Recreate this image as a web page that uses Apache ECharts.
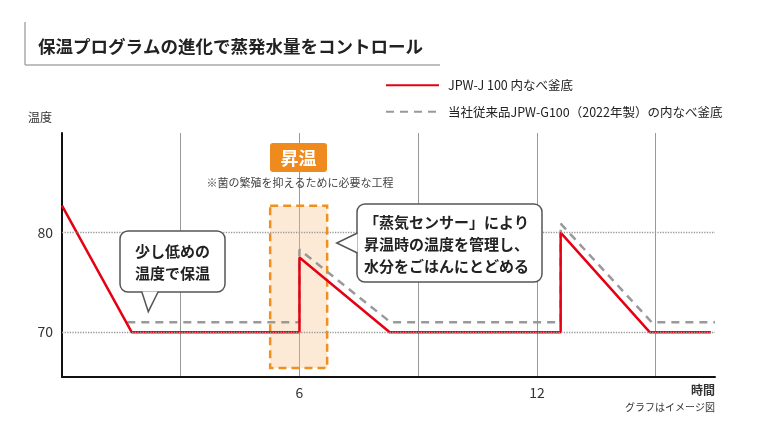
<!DOCTYPE html>
<html>
<head>
<meta charset="utf-8">
<script src="https://cdn.jsdelivr.net/npm/echarts@6/dist/echarts.min.js"></script>
<style>
  html, body { margin: 0; padding: 0; background: #fff; }
  #chart { width: 768px; height: 440px; }
</style>
</head>
<body>
<div id="chart"></div>
<script>
// 時間 (h) と温度の折れ線データ
var newPot = [[0, 82.7], [1.76, 70], [6, 70], [6, 77.5], [8.28, 70], [12.6, 70], [12.6, 80], [14.85, 70], [16.4, 70]];
var oldPot = [[1.65, 71], [6, 71], [6, 78.3], [8.3, 71], [12.6, 71], [12.6, 80.9], [14.9, 71], [16.5, 71]];
var seriesNames = ['JPW-J 100 内なべ釜底', '当社従来品JPW-G100（2022年製）の内なべ釜底'];
var xLabels = [6, 12];
var yLabels = [70, 80];
var riseArea = [5.26, 6.7, 66.4, 82.7]; // 昇温区間 x0,x1,y0,y1

var FONT = '"Noto Sans CJK JP", "Noto Sans", sans-serif';
var myChart = echarts.init(document.getElementById('chart'));

// 吹き出し（角丸枠＋しっぽ）
function bubble(x, y, w, h, tail, lines, tx, ty) {
    return {
        type: 'group',
        children: [
            { type: 'rect', shape: { x: x, y: y, width: w, height: h, r: 8 },
              style: { fill: '#fff', stroke: '#555', lineWidth: 1.5 }, z: 10 },
            { type: 'polygon', shape: { points: tail },
              style: { fill: '#fff', stroke: null }, z: 11 },
            { type: 'polyline', shape: { points: tail },
              style: { stroke: '#555', lineWidth: 1.5, fill: null }, z: 12 },
            { type: 'text', x: tx, y: ty, z: 13,
              style: { text: lines.join('\n'), font: 'bold 15px ' + FONT, fill: '#222',
                       lineHeight: 22, align: 'left', verticalAlign: 'middle' } }
        ]
    };
}

var option = {
    animation: false,
    textStyle: { fontFamily: FONT },
    grid: { left: 62, right: 53, top: 133, bottom: 63 },
    legend: {
        orient: 'vertical',
        left: 380,
        top: 74,
        itemWidth: 53,
        itemHeight: 14,
        itemGap: 14,
        data: seriesNames,
        itemStyle: { opacity: 0 },
        textStyle: { fontSize: 12.5, color: '#222', padding: [0, 0, 0, 4] }
    },
    xAxis: {
        type: 'value',
        min: 0,
        max: 16.5,
        interval: 3,
        axisLine: { lineStyle: { color: '#111', width: 2 } },
        axisTick: { show: false },
        axisLabel: {
            color: '#333', fontSize: 14, margin: 9, showMaxLabel: false,
            formatter: function (v) { return xLabels.indexOf(v) >= 0 ? String(v) : ''; }
        },
        splitLine: { show: true, showMinLine: false, showMaxLine: false, lineStyle: { color: '#999', width: 1 } }
    },
    yAxis: {
        type: 'value',
        min: 65.5,
        max: 90,
        axisLine: { show: true, lineStyle: { color: '#111', width: 2 } },
        axisTick: { show: false },
        axisLabel: { color: '#333', fontSize: 14, margin: 9, customValues: yLabels },
        splitLine: { show: false }
    },
    series: [
        {
            name: 'guide',
            type: 'line',
            data: [],
            z: 1,
            silent: true,
            markLine: {
                silent: true,
                symbol: 'none',
                label: { show: false },
                lineStyle: { color: '#999', type: 'dotted', width: 1.3 },
                data: yLabels.map(function (v) { return { yAxis: v }; })
            },
            markArea: {
                silent: true,
                itemStyle: {
                    color: 'rgba(246, 196, 140, 0.35)',
                    borderColor: '#F0901E',
                    borderWidth: 2.5,
                    borderType: [8, 5]
                },
                data: [[{ xAxis: riseArea[0], yAxis: riseArea[3] }, { xAxis: riseArea[1], yAxis: riseArea[2] }]]
            }
        },
        {
            name: seriesNames[1],
            type: 'line',
            data: oldPot,
            symbol: 'none',
            z: 3,
            color: '#999',
            lineStyle: { color: '#999', width: 2.5, type: [8, 6] }
        },
        {
            name: seriesNames[0],
            type: 'line',
            data: newPot,
            symbol: 'none',
            z: 4,
            color: '#E60012',
            lineStyle: { color: '#E60012', width: 2.5 }
        }
    ],
    graphic: [
        { type: 'line', shape: { x1: 25, y1: 22, x2: 25, y2: 65 }, style: { stroke: '#aaa', lineWidth: 1.5 } },
        { type: 'line', shape: { x1: 25, y1: 65, x2: 440, y2: 65 }, style: { stroke: '#aaa', lineWidth: 1.5 } },
        { type: 'text', x: 38, y: 46,
          style: { text: '保温プログラムの進化で蒸発水量をコントロール', font: 'bold 17.5px ' + FONT,
                   fill: '#222', verticalAlign: 'middle' } },
        { type: 'text', x: 28, y: 117,
          style: { text: '温度', font: '12px ' + FONT, fill: '#333', verticalAlign: 'middle' } },
        { type: 'text', x: 715, y: 390,
          style: { text: '時間', font: 'bold 12px ' + FONT, fill: '#333', align: 'right', verticalAlign: 'middle' } },
        { type: 'text', x: 715, y: 407,
          style: { text: 'グラフはイメージ図', font: '10px ' + FONT, fill: '#333', align: 'right', verticalAlign: 'middle' } },
        { type: 'rect', shape: { x: 270, y: 143, width: 57, height: 29, r: 3 }, style: { fill: '#EE8A1E' }, z: 10 },
        { type: 'text', x: 298.5, y: 158, z: 11,
          style: { text: '昇温', font: 'bold 18px ' + FONT, fill: '#fff', align: 'center', verticalAlign: 'middle' } },
        { type: 'text', x: 300, y: 183, z: 11,
          style: { text: '※菌の繁殖を抑えるために必要な工程', font: '11px ' + FONT, fill: '#444',
                   align: 'center', verticalAlign: 'middle' } },
        bubble(120, 231, 105, 61, [[141.7, 291.5], [148.3, 311.7], [158.3, 291.5]],
               ['少し低めの', '温度で保温'], 135, 262),
        bubble(357, 204, 185, 78, [[357.5, 233], [336.7, 243], [357.5, 253]],
               ['「蒸気センサー」により', '昇温時の温度を管理し、', '水分をごはんにとどめる'], 364, 244)
    ]
};
myChart.setOption(option);
</script>
</body>
</html>
